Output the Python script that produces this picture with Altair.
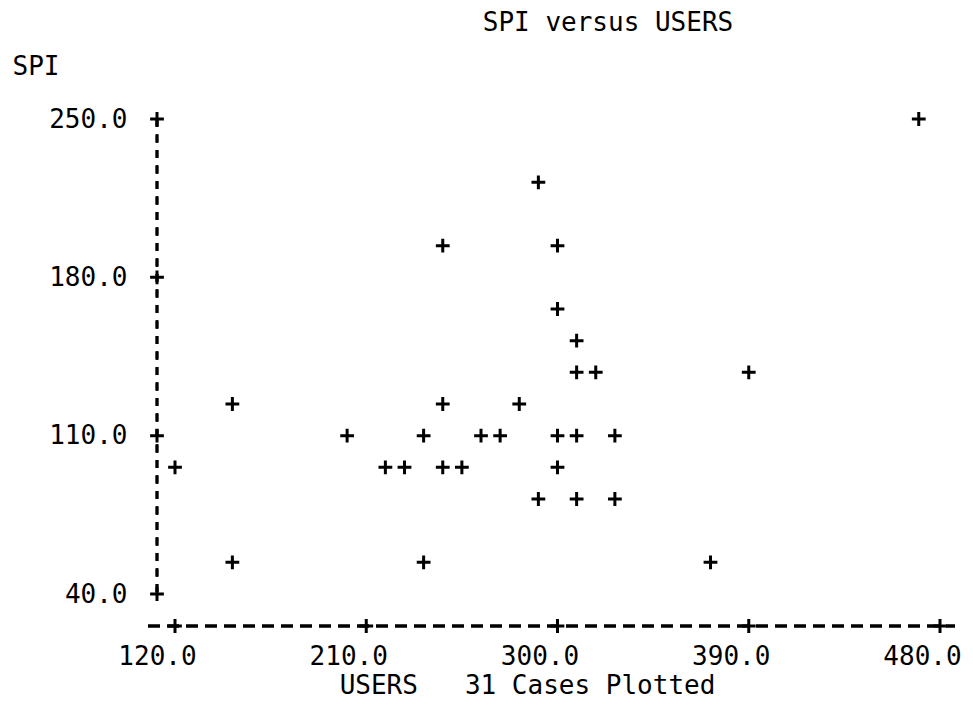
import altair as alt
import pandas as pd

# ---- data ----
users = [470, 291, 246, 300, 300, 309, 309, 318, 390,
         147, 246, 282,
         201, 237, 264, 273, 300, 309, 327,
         120, 219, 228, 246, 255, 300,
         291, 309, 327,
         147, 237, 372]
spi = [250, 222, 194, 194, 166, 152, 138, 138, 138,
       124, 124, 124,
       110, 110, 110, 110, 110, 110, 110,
       96, 96, 96, 96, 96, 96,
       82, 82, 82,
       54, 54, 54]
x_ticks = [120, 210, 300, 390, 480]
y_ticks = [40, 110, 180, 250]

title_text = "SPI versus USERS"
y_title = "SPI"
x_title = "USERS\u00a0\u00a0\u00a031 Cases Plotted"

FONT = "DejaVu Sans Mono"
FS = 26
W, H = 765, 475
PLUS = "M-1,0H1M0,-1V1"

df = pd.DataFrame({"USERS": users, "SPI": spi})
xs = alt.Scale(domain=[120, 480], nice=False, zero=False)
ys = alt.Scale(domain=[40, 250], nice=False, zero=False)

points = alt.Chart(df).mark_point(shape=PLUS, filled=False, stroke="black",
                                  strokeWidth=3, size=190, opacity=1).encode(
    x=alt.X("USERS:Q", scale=xs,
            axis=alt.Axis(values=x_ticks, format=".1f", domain=False, ticks=False,
                          tickSize=0, grid=False, title=x_title,
                          titleFont=FONT, titleFontSize=FS, titleFontWeight="normal",
                          titleColor="black", titleX=352, titleY=91,
                          titleAlign="center", titleBaseline="middle",
                          titleAnchor="start",
                          labelFlush=False, labelOverlap=False,
                          labelPadding=49, labelOffset=-18, labelFont=FONT,
                          labelFontSize=FS, labelColor="black", labelBaseline="top")),
    y=alt.Y("SPI:Q", scale=ys,
            axis=alt.Axis(values=y_ticks, format=".1f", domain=False, ticks=False,
                          tickSize=0, grid=False, title=y_title,
                          titleFont=FONT, titleFontSize=FS, titleFontWeight="normal",
                          titleColor="black", titleAngle=0, titleX=-163, titleY=-53,
                          titleAlign="left", titleBaseline="middle",
                          titleAnchor="start",
                          labelFlush=False, labelOverlap=False,
                          labelPadding=48, labelFont=FONT, labelFontSize=FS,
                          labelColor="black", labelAlign="right",
                          labelBaseline="middle")),
)

xt = pd.DataFrame({"t": x_ticks})
yt = pd.DataFrame({"t": y_ticks})

x_axis_line = alt.Chart(xt).mark_rule(stroke="black", strokeWidth=2.5,
                                      strokeDash=[12, 7]).encode(
    x=alt.value(-27), x2=alt.value(780), y=alt.value(507))
y_axis_line = alt.Chart(yt).mark_rule(stroke="black", strokeWidth=2.5,
                                      strokeDash=[8, 7.5]).encode(
    x=alt.value(-18), y=alt.datum(250, scale=ys), y2=alt.datum(40))

x_tick_plus = alt.Chart(xt).mark_point(shape=PLUS, filled=False, stroke="black",
                                       strokeWidth=3, size=190, opacity=1).encode(
    x=alt.X("t:Q", scale=xs), y=alt.value(507))
y_tick_plus = alt.Chart(yt).mark_point(shape=PLUS, filled=False, stroke="black",
                                       strokeWidth=3, size=190, opacity=1).encode(
    y=alt.Y("t:Q", scale=ys), x=alt.value(-18))

title_mark = alt.Chart(pd.DataFrame({"s": [title_text]})).mark_text(
    font=FONT, fontSize=FS, color="black", align="center", baseline="middle"
).encode(text="s:N", x=alt.value(433), y=alt.value(-96))

chart = alt.layer(
    x_axis_line, y_axis_line, x_tick_plus, y_tick_plus, points, title_mark,
).properties(
    width=W, height=H,
    autosize=alt.AutoSizeParams(type="none"),
    padding={"left": 167, "top": 111, "right": 25, "bottom": 104},
    background="white",
).configure_view(strokeWidth=0)

chart.save("out.html", embed_options={"renderer": "svg", "actions": False})
